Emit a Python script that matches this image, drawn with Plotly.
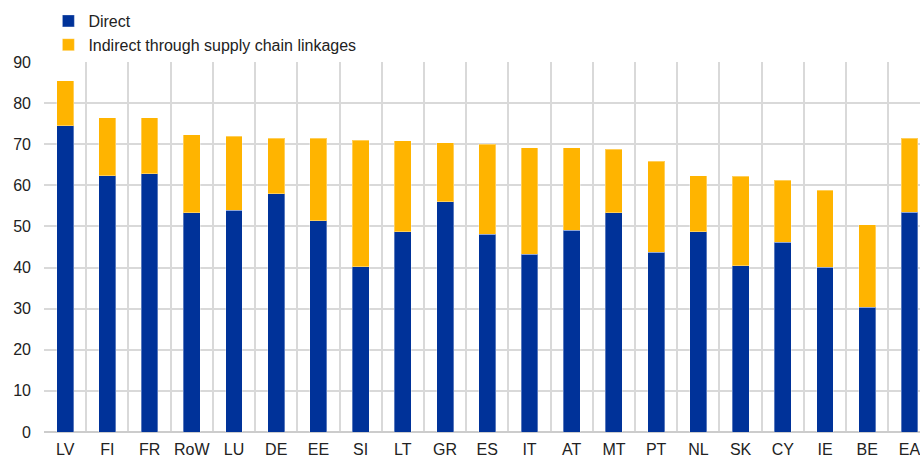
import plotly.graph_objects as go

categories = ["LV", "FI", "FR", "RoW", "LU", "DE", "EE", "SI", "LT", "GR", "ES",
              "IT", "AT", "MT", "PT", "NL", "SK", "CY", "IE", "BE", "EA"]
direct = [74.5, 62.3, 62.8, 53.3, 53.9, 58.0, 51.4, 40.2, 48.7, 56.0, 48.1,
          43.2, 49.1, 53.3, 43.7, 48.7, 40.4, 46.2, 40.1, 30.4, 53.5]
total = [85.5, 76.5, 76.5, 72.3, 72.0, 71.5, 71.4, 71.0, 70.9, 70.3, 70.0,
         69.2, 69.1, 68.8, 65.8, 62.3, 62.2, 61.2, 58.8, 50.4, 71.5]
indirect = [round(t - d, 1) for t, d in zip(total, direct)]

BLUE = "#003299"
YELLOW = "#FFB400"
FONT = "Liberation Sans, Arial, sans-serif"

fig = go.Figure()
fig.add_trace(go.Bar(x=categories, y=direct, name="Direct", marker_color=BLUE,
                     marker_line=dict(color="rgba(255,255,255,0.35)", width=1)))
fig.add_trace(go.Bar(x=categories, y=indirect, name="Indirect through supply chain linkages",
                     marker_color=YELLOW,
                     marker_line=dict(color="rgba(255,255,255,0.35)", width=1)))

fig.update_layout(
    width=920, height=457,
    barmode="stack", bargap=0.6,
    margin=dict(l=44, r=0, t=62, b=25, autoexpand=False),
    paper_bgcolor="white", plot_bgcolor="white",
    font=dict(family=FONT, size=16, color="#222222"),
    showlegend=True,
    legend=dict(x=0.005, y=1 - 4 / 457, xref="paper", yref="container", xanchor="left",
                yanchor="top", orientation="v", font=dict(size=16), itemwidth=30,
                traceorder="normal", tracegroupgap=0, bgcolor="rgba(0,0,0,0)"),
    xaxis=dict(type="category", range=[-0.5, 20.25], tickson="boundaries",
               showgrid=True, gridcolor="#d9d9d9", gridwidth=1.5, ticks="",
               tickangle=0, automargin=False, ticklabelstandoff=6,
               showline=False, fixedrange=True),
    yaxis=dict(range=[0, 90], dtick=10, showgrid=True, gridcolor="#d9d9d9", gridwidth=1.5,
               zeroline=True, zerolinecolor="#cccccc", zerolinewidth=1.5, automargin=False,
               ticks="", ticklabelstandoff=12, showline=False),
)

fig.write_html(
    "out.html",
    config={"displayModeBar": False},
    post_script="document.body.style.margin='0';document.body.style.overflow='hidden';",
)
